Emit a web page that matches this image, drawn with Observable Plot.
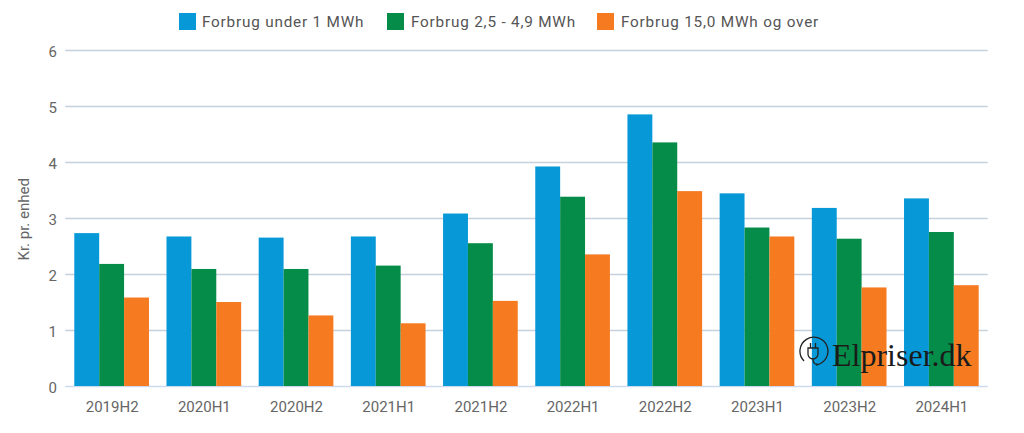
<!DOCTYPE html>
<html><head><meta charset="utf-8">
<script src="https://cdn.jsdelivr.net/npm/d3@7"></script>
<script src="https://cdn.jsdelivr.net/npm/@observablehq/plot@0.6"></script>
<style>
html,body{margin:0;padding:0;background:#fff;width:1024px;height:433px;overflow:hidden;font-family:Roboto,sans-serif}
#wrap{position:relative;width:1024px;height:433px}
#legend{position:relative;height:40px}
.sw{position:absolute;top:13px;width:17px;height:17px}
.lb{position:absolute;top:13px;line-height:18px;font-size:15.3px;letter-spacing:.8px;color:#555;white-space:nowrap}
#logo{position:absolute;left:798px;top:336px;width:180px;height:36px}
#logo span{position:absolute;left:34px;top:2px;font:32px/34px "Liberation Serif",serif;color:#1a1a1a}
#logo svg{position:absolute;left:0;top:0}
svg{display:block}
</style></head><body><div id="wrap">
<div id="legend"></div>
<div id="chart"></div>
<div id="logo"><svg width="34" height="34" viewBox="0 0 34 34" fill="none" stroke="#222" stroke-width="1.3"><path d="M6 25A14 14 0 1 1 18 29"/><path d="M10 12h10v6a5 5 0 0 1-10 0zM12.5 7v5M17.5 7v5M15 23c0 4 2 6 5 5"/></svg><span>Elpriser.dk</span></div>
</div>
<script>
const periods = ["2019H2","2020H1","2020H2","2021H1","2021H2","2022H1","2022H2","2023H1","2023H2","2024H1"];
const seriesNames = ["Forbrug under 1 MWh","Forbrug 2,5 - 4,9 MWh","Forbrug 15,0 MWh og over"];
const under1 = [2.73,2.67,2.65,2.67,3.08,3.92,4.85,3.44,3.18,3.35];
const mid = [2.18,2.09,2.09,2.15,2.55,3.38,4.35,2.83,2.63,2.75];
const over15 = [1.58,1.50,1.26,1.12,1.52,2.35,3.48,2.67,1.76,1.80];
const colors = ["#0798d8","#058c49","#f57a20"];
const legendX = [[179,202],[387,411],[597,621]];

const rows = [under1,mid,over15].flatMap((vals,i)=>vals.map((v,j)=>({period:periods[j],series:seriesNames[i],value:v})));

const legend = document.getElementById("legend");
seriesNames.forEach((n,i)=>{
  const s=document.createElement("div");s.className="sw";s.style.left=legendX[i][0]+"px";s.style.background=colors[i];legend.append(s);
  const l=document.createElement("div");l.className="lb";l.style.left=legendX[i][1]+"px";l.textContent=n;legend.append(l);
});

const chart = Plot.plot({
  width:1024,height:393,
  marginTop:10,marginBottom:47,marginLeft:66,marginRight:37,
  style:{background:"#fff",fontFamily:"Roboto,sans-serif"},
  fx:{domain:periods,paddingInner:0.19,paddingOuter:0.09,round:false,label:null,axis:null},
  x:{domain:seriesNames,padding:0,round:false,axis:null},
  y:{domain:[0,6],ticks:[0,1,2,3,4,5,6],label:null,axis:null},
  color:{domain:seriesNames,range:colors},
  marks:[
    Plot.ruleY([1,2,3,4,5,6],{stroke:"#c6d1dc",strokeWidth:1.3,insetLeft:-9,insetRight:-9}),
    Plot.ruleY([0],{stroke:"#cdd9ee",strokeWidth:1.3,insetLeft:-9,insetRight:-9}),
    Plot.barY(rows,{fx:"period",x:"series",y:"value",fill:"series"}),
    Plot.axisY({ticks:[0,1,2,3,4,5,6],tickSize:0,tickPadding:22,anchor:"left",dy:1.5,fontSize:15,fill:"#666",label:null,tickFormat:d=>d,textAnchor:"middle"}),
    Plot.axisFx({domain:periods,anchor:"bottom",tickSize:0,tickPadding:15,fontSize:15,fill:"#666",label:null}),
    Plot.text(["Kr. pr. enhed"],{frameAnchor:"left",dx:-51,dy:42,rotate:-90,fontSize:15,fill:"#666",letterSpacing:0.7,facet:"super"})
  ]
});
document.getElementById("chart").append(chart);
</script></body></html>
